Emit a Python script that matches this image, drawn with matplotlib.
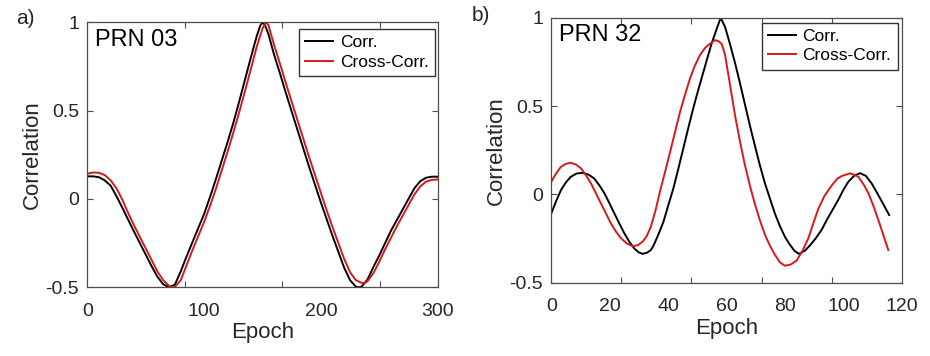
import numpy as np
import matplotlib
matplotlib.use('Agg')
import matplotlib.pyplot as plt
from matplotlib.ticker import FixedLocator

plt.rcParams['font.family'] = ['Liberation Sans', 'DejaVu Sans']

# Panel a) PRN 03
epoch_a1 = [0, 5, 10, 15, 20, 25, 30, 35, 40, 45, 50, 55, 60, 65, 70, 75,
            80, 85, 90, 95, 100, 105, 110, 115, 120, 125, 130, 135, 140, 145,
            148, 150, 152, 155, 160, 165, 170, 175, 180, 185, 190, 195, 200,
            205, 210, 215, 220, 225, 230, 233, 235, 240, 245, 250, 255, 260,
            265, 270, 275, 280, 285, 290, 295, 300]
corr_a = [0.128, 0.128, 0.123, 0.105, 0.075, 0.015, -0.05, -0.118, -0.185,
          -0.25, -0.315, -0.38, -0.44, -0.483, -0.50, -0.485, -0.41, -0.325,
          -0.245, -0.165, -0.085, 0.01, 0.11, 0.215, 0.32, 0.43, 0.55,
          0.675, 0.80, 0.92, 0.98, 1.00, 0.985, 0.935, 0.815, 0.71, 0.60,
          0.495, 0.39, 0.285, 0.18, 0.08, -0.02, -0.115, -0.21, -0.30,
          -0.39, -0.46, -0.497, -0.50, -0.495, -0.455, -0.385, -0.32, -0.25,
          -0.18, -0.12, -0.06, 0.0, 0.06, 0.10, 0.12, 0.126, 0.126]
epoch_a2 = [0, 5, 10, 15, 20, 25, 30, 35, 40, 45, 50, 55, 60, 65, 70, 73,
            75, 80, 85, 90, 95, 100, 105, 110, 115, 120, 125, 130, 135, 140,
            145, 150, 153, 155, 160, 165, 170, 175, 180, 185, 190, 195, 200,
            205, 210, 215, 220, 225, 230, 235, 238, 240, 245, 250, 255, 260,
            265, 270, 275, 280, 285, 290, 295, 300]
cross_a = [0.143, 0.15, 0.148, 0.135, 0.105, 0.06, -0.005, -0.08, -0.15,
           -0.215, -0.28, -0.345, -0.41, -0.46, -0.492, -0.50, -0.497,
           -0.46, -0.375, -0.29, -0.21, -0.13, -0.04, 0.055, 0.16, 0.265,
           0.375, 0.49, 0.61, 0.735, 0.86, 0.965, 1.00, 0.985, 0.87, 0.765,
           0.655, 0.55, 0.445, 0.34, 0.235, 0.135, 0.035, -0.065, -0.16,
           -0.25, -0.34, -0.415, -0.46, -0.475, -0.475, -0.465, -0.42,
           -0.355, -0.285, -0.22, -0.155, -0.095, -0.035, 0.025, 0.07, 0.098,
           0.108, 0.11]

# Panel b) PRN 32
epoch_b1 = [0, 1.6, 3.3, 5, 6.7, 8.7, 10.7, 12.7, 14.7, 16.5, 18.2, 19.9,
            21.6, 23.3, 25, 26.7, 28.4, 29.9, 31.3, 32.8, 34.1, 35, 36.6,
            38.4, 40.1, 41.8, 43.5, 45.2, 46.9, 48.6, 50.3, 52.1, 53.5, 54.9,
            56.5, 58, 59.5, 61.2, 62.9, 64.6, 66.3, 68, 69.8, 71.5, 73.2, 75,
            76.6, 78.3, 80, 81.7, 83.3, 84.8, 86.9, 88.5, 90.5, 92.6, 94.5,
            96.4, 98.3, 100, 101.7, 103.7, 105.7, 107.7, 109.7, 111.5, 113.5,
            115.7]
corr_b = [-0.108, -0.04, 0.024, 0.068, 0.10, 0.118, 0.122, 0.112, 0.09, 0.05,
          0.006, -0.05, -0.108, -0.165, -0.22, -0.268, -0.306, -0.328,
          -0.337, -0.33, -0.315, -0.29, -0.23, -0.155, -0.06, 0.034, 0.145,
          0.26, 0.375, 0.487, 0.59, 0.694, 0.775, 0.854, 0.93, 1.0, 0.948,
          0.85, 0.745, 0.63, 0.51, 0.39, 0.27, 0.16, 0.06, -0.03, -0.11,
          -0.18, -0.24, -0.285, -0.32, -0.337, -0.318, -0.29, -0.25, -0.2,
          -0.14, -0.085, -0.03, 0.025, 0.071, 0.105, 0.12, 0.105, 0.062,
          0.01, -0.05, -0.117]
epoch_b2 = [0, 1.5, 3.3, 5, 6.7, 8.5, 10.2, 12, 13.6, 15.3, 17, 18.7, 20.4,
            22.2, 23.9, 26, 27.9, 29.6, 31.3, 32.7, 34.1, 35.7, 37.2, 39,
            40.7, 42.4, 44.1, 45.8, 47.5, 49.2, 50.9, 52.6, 54.4, 56.1, 57.4,
            58.4, 59.5, 61.2, 62.9, 64.6, 66.3, 68, 69.8, 71.5, 73.2, 75,
            76.6, 78.3, 80, 82, 84, 86, 88, 90, 91.5, 93.5, 96, 98, 99.5,
            102.3, 104, 105.1, 107, 108.6, 110.3, 112, 113.7, 115.4]
cross_b = [0.071, 0.115, 0.156, 0.173, 0.179, 0.168, 0.147, 0.105, 0.062,
           0.005, -0.051, -0.108, -0.164, -0.212, -0.249, -0.28, -0.293,
           -0.288, -0.268, -0.235, -0.183, -0.09, 0.015, 0.13, 0.241, 0.355,
           0.467, 0.565, 0.656, 0.73, 0.788, 0.828, 0.854, 0.873, 0.866,
           0.85, 0.79, 0.62, 0.449, 0.30, 0.166, 0.05, -0.06, -0.15, -0.23,
           -0.295, -0.343, -0.385, -0.404, -0.397, -0.375, -0.32, -0.25,
           -0.15, -0.08, -0.01, 0.05, 0.09, 0.104, 0.119, 0.11, 0.1, 0.055,
           0.006, -0.065, -0.145, -0.23, -0.315]

txt = '#262626'
fig = plt.figure(figsize=(9.3, 3.56), dpi=100)
ax1 = fig.add_axes([0.0939, 0.193, 0.3767, 0.7444])
ax2 = fig.add_axes([0.5928, 0.2059, 0.3768, 0.7444])


def style(ax, xmax, xlabels, marks, name, leg_anchor):
    ax.set_xlim(0, xmax)
    ax.set_ylim(-0.5, 1)
    # labels sit where the numbers are, tick marks sit elsewhere
    ax.set_xticks(xlabels)
    ax.set_xticklabels([str(v) for v in xlabels])
    ax.xaxis.set_minor_locator(FixedLocator(marks))
    ax.set_yticks([-0.5, 0, 0.5, 1])
    ax.set_yticklabels(['-0.5', '0', '0.5', '1'])
    ax.tick_params(axis='x', which='major', length=0, pad=11,
                   labelsize=14, colors=txt)
    ax.tick_params(axis='x', which='minor', direction='in', length=4,
                   width=0.8, top=True, bottom=True, color='#4d4d4d')
    ax.tick_params(axis='y', which='major', direction='in', length=4,
                   width=0.8, left=True, right=True, pad=6, labelsize=14,
                   colors=txt)
    ax.tick_params(axis='y', color='#4d4d4d')
    for s in ax.spines.values():
        s.set_color('#4d4d4d')
        s.set_linewidth(0.9)
    ax.set_xlabel('Epoch', fontsize=16, color=txt, labelpad=2)
    ax.set_ylabel('Correlation', fontsize=16, color=txt, labelpad=2)
    ax.text(0.022, 0.975, name, transform=ax.transAxes, fontsize=17,
            va='top', ha='left', color='black')
    leg = ax.legend(loc='upper right', bbox_to_anchor=leg_anchor,
                    fontsize=12.5, fancybox=False, framealpha=1,
                    edgecolor='#333333', handlelength=1.6,
                    handletextpad=0.4, borderpad=0.35, labelspacing=0.25,
                    borderaxespad=0)
    leg.get_frame().set_linewidth(1.0)


ax1.plot(epoch_a1, corr_a, color='black', lw=1.4, label='Corr.')
ax1.plot(epoch_a2, cross_a, color='#d7191c', lw=1.4, label='Cross-Corr.')
style(ax1, 300, [0, 100, 200, 300], [83.5, 167, 250.5], 'PRN 03',
      (0.992, 0.975))

ax2.plot(epoch_b1, corr_b, color='black', lw=1.4, label='Corr.')
ax2.plot(epoch_b2, cross_b, color='#d7191c', lw=1.4, label='Cross-Corr.')
style(ax2, 120, [0, 20, 40, 60, 80, 100, 120], [24, 48, 72, 96], 'PRN 32',
      (0.988, 0.981))

fig.text(0.017, 0.975, 'a)', fontsize=15, va='top', ha='left', color=txt)
fig.text(0.507, 0.983, 'b)', fontsize=15, va='top', ha='left', color=txt)

fig.savefig('out.png', dpi=100)
